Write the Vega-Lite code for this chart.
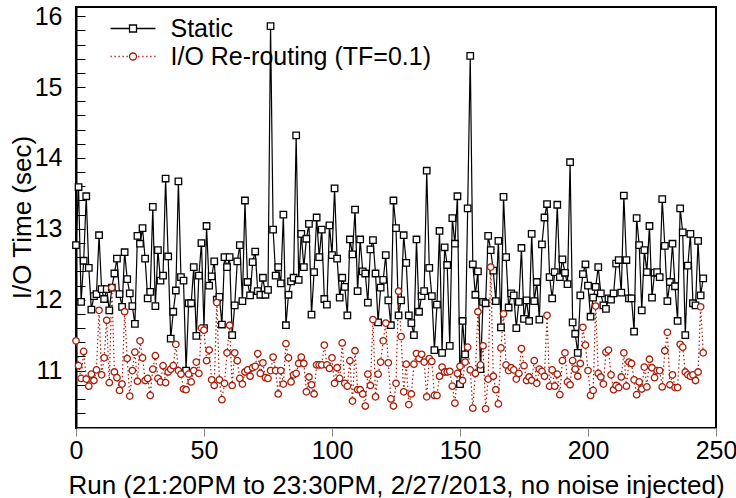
{
"$schema": "https://vega.github.io/schema/vega-lite/v6.json",
"width": 640, "height": 421,
"autosize": {"type": "none"},
"padding": {"left": 76, "top": 7, "right": 20, "bottom": 70},
"background": "white",
"config": {"font": "Liberation Sans", "view": {"stroke": "black", "strokeWidth": 2}},
"data": {"values": [
{"run":0,"series":"Static","time":12.77},{"run":1,"series":"Static","time":13.59},{"run":2,"series":"Static","time":11.97},{"run":3,"series":"Static","time":12.55},{"run":4,"series":"Static","time":13.46},{"run":5,"series":"Static","time":12.45},{"run":6,"series":"Static","time":11.86},{"run":7,"series":"Static","time":12.05},{"run":8,"series":"Static","time":12.08},{"run":9,"series":"Static","time":12.91},
{"run":10,"series":"Static","time":12.15},{"run":11,"series":"Static","time":12.01},{"run":12,"series":"Static","time":12.15},{"run":13,"series":"Static","time":11.85},{"run":14,"series":"Static","time":12.17},{"run":15,"series":"Static","time":12.37},{"run":16,"series":"Static","time":12.58},{"run":17,"series":"Static","time":12.08},{"run":18,"series":"Static","time":11.90},{"run":19,"series":"Static","time":12.67},
{"run":20,"series":"Static","time":12.29},{"run":21,"series":"Static","time":12.09},{"run":22,"series":"Static","time":11.91},{"run":23,"series":"Static","time":11.66},{"run":24,"series":"Static","time":12.90},{"run":25,"series":"Static","time":12.79},{"run":26,"series":"Static","time":13.01},{"run":27,"series":"Static","time":12.58},{"run":28,"series":"Static","time":12.02},{"run":29,"series":"Static","time":12.11},
{"run":30,"series":"Static","time":13.31},{"run":31,"series":"Static","time":11.91},{"run":32,"series":"Static","time":12.70},{"run":33,"series":"Static","time":12.27},{"run":34,"series":"Static","time":12.34},{"run":35,"series":"Static","time":13.71},{"run":36,"series":"Static","time":12.61},{"run":37,"series":"Static","time":11.45},{"run":38,"series":"Static","time":11.83},{"run":39,"series":"Static","time":12.13},
{"run":40,"series":"Static","time":13.67},{"run":41,"series":"Static","time":12.32},{"run":42,"series":"Static","time":12.27},{"run":43,"series":"Static","time":11.00},{"run":44,"series":"Static","time":11.95},{"run":45,"series":"Static","time":11.95},{"run":46,"series":"Static","time":12.46},{"run":47,"series":"Static","time":11.49},{"run":48,"series":"Static","time":12.34},{"run":49,"series":"Static","time":12.80},
{"run":50,"series":"Static","time":11.60},{"run":51,"series":"Static","time":13.04},{"run":52,"series":"Static","time":12.20},{"run":53,"series":"Static","time":12.33},{"run":54,"series":"Static","time":12.54},{"run":55,"series":"Static","time":12.00},{"run":56,"series":"Static","time":12.04},{"run":57,"series":"Static","time":11.65},{"run":58,"series":"Static","time":12.60},{"run":59,"series":"Static","time":12.46},
{"run":60,"series":"Static","time":12.60},{"run":61,"series":"Static","time":11.50},{"run":62,"series":"Static","time":11.92},{"run":63,"series":"Static","time":12.54},{"run":64,"series":"Static","time":12.77},{"run":65,"series":"Static","time":11.98},{"run":66,"series":"Static","time":13.40},{"run":67,"series":"Static","time":12.25},{"run":68,"series":"Static","time":12.06},{"run":69,"series":"Static","time":12.53},
{"run":70,"series":"Static","time":12.68},{"run":71,"series":"Static","time":12.12},{"run":72,"series":"Static","time":12.07},{"run":73,"series":"Static","time":12.31},{"run":74,"series":"Static","time":12.07},{"run":75,"series":"Static","time":12.14},{"run":76,"series":"Static","time":15.86},{"run":77,"series":"Static","time":12.99},{"run":78,"series":"Static","time":12.34},{"run":79,"series":"Static","time":12.46},
{"run":80,"series":"Static","time":12.23},{"run":81,"series":"Static","time":13.20},{"run":82,"series":"Static","time":11.64},{"run":83,"series":"Static","time":12.07},{"run":84,"series":"Static","time":12.26},{"run":85,"series":"Static","time":12.31},{"run":86,"series":"Static","time":14.32},{"run":87,"series":"Static","time":12.28},{"run":88,"series":"Static","time":12.93},{"run":89,"series":"Static","time":12.46},
{"run":90,"series":"Static","time":12.86},{"run":91,"series":"Static","time":13.07},{"run":92,"series":"Static","time":11.79},{"run":93,"series":"Static","time":12.39},{"run":94,"series":"Static","time":13.16},{"run":95,"series":"Static","time":12.60},{"run":96,"series":"Static","time":12.99},{"run":97,"series":"Static","time":12.01},{"run":98,"series":"Static","time":11.93},{"run":99,"series":"Static","time":13.05},
{"run":100,"series":"Static","time":12.63},{"run":101,"series":"Static","time":13.57},{"run":102,"series":"Static","time":12.58},{"run":103,"series":"Static","time":12.03},{"run":104,"series":"Static","time":12.31},{"run":105,"series":"Static","time":12.18},{"run":106,"series":"Static","time":11.78},{"run":107,"series":"Static","time":12.85},{"run":108,"series":"Static","time":12.64},{"run":109,"series":"Static","time":13.27},
{"run":110,"series":"Static","time":12.12},{"run":111,"series":"Static","time":12.85},{"run":112,"series":"Static","time":12.40},{"run":113,"series":"Static","time":12.37},{"run":114,"series":"Static","time":11.96},{"run":115,"series":"Static","time":12.71},{"run":116,"series":"Static","time":12.84},{"run":117,"series":"Static","time":12.37},{"run":118,"series":"Static","time":11.68},{"run":119,"series":"Static","time":12.17},
{"run":120,"series":"Static","time":12.28},{"run":121,"series":"Static","time":12.63},{"run":122,"series":"Static","time":11.99},{"run":123,"series":"Static","time":11.64},{"run":124,"series":"Static","time":13.40},{"run":125,"series":"Static","time":13.01},{"run":126,"series":"Static","time":11.78},{"run":127,"series":"Static","time":11.99},{"run":128,"series":"Static","time":12.91},{"run":129,"series":"Static","time":12.52},
{"run":130,"series":"Static","time":11.78},{"run":131,"series":"Static","time":11.67},{"run":132,"series":"Static","time":11.50},{"run":133,"series":"Static","time":12.85},{"run":134,"series":"Static","time":11.83},{"run":135,"series":"Static","time":12.05},{"run":136,"series":"Static","time":12.12},{"run":137,"series":"Static","time":13.82},{"run":138,"series":"Static","time":12.45},{"run":139,"series":"Static","time":12.05},
{"run":140,"series":"Static","time":11.29},{"run":141,"series":"Static","time":11.93},{"run":142,"series":"Static","time":12.97},{"run":143,"series":"Static","time":11.25},{"run":144,"series":"Static","time":12.74},{"run":145,"series":"Static","time":12.49},{"run":146,"series":"Static","time":11.35},{"run":147,"series":"Static","time":13.15},{"run":148,"series":"Static","time":12.79},{"run":149,"series":"Static","time":13.46},
{"run":150,"series":"Static","time":10.81},{"run":151,"series":"Static","time":11.70},{"run":152,"series":"Static","time":11.23},{"run":153,"series":"Static","time":13.29},{"run":154,"series":"Static","time":15.44},{"run":155,"series":"Static","time":12.50},{"run":156,"series":"Static","time":12.07},{"run":157,"series":"Static","time":12.40},{"run":158,"series":"Static","time":11.02},{"run":159,"series":"Static","time":11.97},
{"run":160,"series":"Static","time":11.95},{"run":161,"series":"Static","time":12.90},{"run":162,"series":"Static","time":12.70},{"run":163,"series":"Static","time":12.41},{"run":164,"series":"Static","time":11.98},{"run":165,"series":"Static","time":12.83},{"run":166,"series":"Static","time":11.61},{"run":167,"series":"Static","time":13.45},{"run":168,"series":"Static","time":12.60},{"run":169,"series":"Static","time":11.89},
{"run":170,"series":"Static","time":12.09},{"run":171,"series":"Static","time":12.06},{"run":172,"series":"Static","time":11.60},{"run":173,"series":"Static","time":11.97},{"run":174,"series":"Static","time":12.73},{"run":175,"series":"Static","time":11.73},{"run":176,"series":"Static","time":11.99},{"run":177,"series":"Static","time":11.70},{"run":178,"series":"Static","time":12.93},{"run":179,"series":"Static","time":11.98},
{"run":180,"series":"Static","time":12.25},{"run":181,"series":"Static","time":11.72},{"run":182,"series":"Static","time":12.78},{"run":183,"series":"Static","time":13.16},{"run":184,"series":"Static","time":13.35},{"run":185,"series":"Static","time":12.32},{"run":186,"series":"Static","time":12.02},{"run":187,"series":"Static","time":12.39},{"run":188,"series":"Static","time":13.34},{"run":189,"series":"Static","time":12.32},
{"run":190,"series":"Static","time":12.57},{"run":191,"series":"Static","time":12.38},{"run":192,"series":"Static","time":12.22},{"run":193,"series":"Static","time":13.94},{"run":194,"series":"Static","time":11.68},{"run":195,"series":"Static","time":11.52},{"run":196,"series":"Static","time":11.25},{"run":197,"series":"Static","time":12.06},{"run":198,"series":"Static","time":12.36},{"run":199,"series":"Static","time":12.50},
{"run":200,"series":"Static","time":12.20},{"run":201,"series":"Static","time":11.76},{"run":202,"series":"Static","time":12.03},{"run":203,"series":"Static","time":12.18},{"run":204,"series":"Static","time":12.46},{"run":205,"series":"Static","time":12.09},{"run":206,"series":"Static","time":11.92},{"run":207,"series":"Static","time":11.87},{"run":208,"series":"Static","time":12.02},{"run":209,"series":"Static","time":12.00},
{"run":210,"series":"Static","time":12.09},{"run":211,"series":"Static","time":12.51},{"run":212,"series":"Static","time":12.56},{"run":213,"series":"Static","time":12.10},{"run":214,"series":"Static","time":13.47},{"run":215,"series":"Static","time":12.56},{"run":216,"series":"Static","time":12.02},{"run":217,"series":"Static","time":12.02},{"run":218,"series":"Static","time":11.55},{"run":219,"series":"Static","time":13.15},
{"run":220,"series":"Static","time":12.77},{"run":221,"series":"Static","time":11.85},{"run":222,"series":"Static","time":12.70},{"run":223,"series":"Static","time":12.39},{"run":224,"series":"Static","time":13.04},{"run":225,"series":"Static","time":12.03},{"run":226,"series":"Static","time":12.38},{"run":227,"series":"Static","time":12.39},{"run":228,"series":"Static","time":12.32},{"run":229,"series":"Static","time":13.42},
{"run":230,"series":"Static","time":12.76},{"run":231,"series":"Static","time":11.98},{"run":232,"series":"Static","time":12.25},{"run":233,"series":"Static","time":12.79},{"run":234,"series":"Static","time":12.19},{"run":235,"series":"Static","time":11.70},{"run":236,"series":"Static","time":13.29},{"run":237,"series":"Static","time":12.95},{"run":238,"series":"Static","time":11.50},{"run":239,"series":"Static","time":12.48},
{"run":240,"series":"Static","time":12.93},{"run":241,"series":"Static","time":11.95},{"run":242,"series":"Static","time":11.92},{"run":243,"series":"Static","time":12.83},{"run":244,"series":"Static","time":12.06},{"run":245,"series":"Static","time":12.30},
{"run":0,"series":"I/O Re-routing (TF=0.1)","time":11.42},{"run":1,"series":"I/O Re-routing (TF=0.1)","time":11.07},{"run":2,"series":"I/O Re-routing (TF=0.1)","time":10.89},{"run":3,"series":"I/O Re-routing (TF=0.1)","time":11.27},{"run":4,"series":"I/O Re-routing (TF=0.1)","time":10.88},{"run":5,"series":"I/O Re-routing (TF=0.1)","time":10.78},{"run":6,"series":"I/O Re-routing (TF=0.1)","time":10.95},{"run":7,"series":"I/O Re-routing (TF=0.1)","time":10.86},{"run":8,"series":"I/O Re-routing (TF=0.1)","time":11.01},{"run":9,"series":"I/O Re-routing (TF=0.1)","time":11.85},
{"run":10,"series":"I/O Re-routing (TF=0.1)","time":10.94},{"run":11,"series":"I/O Re-routing (TF=0.1)","time":11.18},{"run":12,"series":"I/O Re-routing (TF=0.1)","time":11.71},{"run":13,"series":"I/O Re-routing (TF=0.1)","time":10.83},{"run":14,"series":"I/O Re-routing (TF=0.1)","time":12.17},{"run":15,"series":"I/O Re-routing (TF=0.1)","time":10.98},{"run":16,"series":"I/O Re-routing (TF=0.1)","time":10.90},{"run":17,"series":"I/O Re-routing (TF=0.1)","time":10.72},{"run":18,"series":"I/O Re-routing (TF=0.1)","time":10.81},{"run":19,"series":"I/O Re-routing (TF=0.1)","time":11.83},
{"run":20,"series":"I/O Re-routing (TF=0.1)","time":11.17},{"run":21,"series":"I/O Re-routing (TF=0.1)","time":10.64},{"run":22,"series":"I/O Re-routing (TF=0.1)","time":11.00},{"run":23,"series":"I/O Re-routing (TF=0.1)","time":11.26},{"run":24,"series":"I/O Re-routing (TF=0.1)","time":10.85},{"run":25,"series":"I/O Re-routing (TF=0.1)","time":11.42},{"run":26,"series":"I/O Re-routing (TF=0.1)","time":11.18},{"run":27,"series":"I/O Re-routing (TF=0.1)","time":10.86},{"run":28,"series":"I/O Re-routing (TF=0.1)","time":10.89},{"run":29,"series":"I/O Re-routing (TF=0.1)","time":10.65},
{"run":30,"series":"I/O Re-routing (TF=0.1)","time":11.02},{"run":31,"series":"I/O Re-routing (TF=0.1)","time":11.21},{"run":32,"series":"I/O Re-routing (TF=0.1)","time":10.89},{"run":33,"series":"I/O Re-routing (TF=0.1)","time":10.84},{"run":34,"series":"I/O Re-routing (TF=0.1)","time":11.07},{"run":35,"series":"I/O Re-routing (TF=0.1)","time":10.83},{"run":36,"series":"I/O Re-routing (TF=0.1)","time":10.98},{"run":37,"series":"I/O Re-routing (TF=0.1)","time":11.02},{"run":38,"series":"I/O Re-routing (TF=0.1)","time":11.07},{"run":39,"series":"I/O Re-routing (TF=0.1)","time":11.37},
{"run":40,"series":"I/O Re-routing (TF=0.1)","time":11.00},{"run":41,"series":"I/O Re-routing (TF=0.1)","time":10.95},{"run":42,"series":"I/O Re-routing (TF=0.1)","time":10.74},{"run":43,"series":"I/O Re-routing (TF=0.1)","time":10.73},{"run":44,"series":"I/O Re-routing (TF=0.1)","time":10.95},{"run":45,"series":"I/O Re-routing (TF=0.1)","time":10.84},{"run":46,"series":"I/O Re-routing (TF=0.1)","time":11.00},{"run":47,"series":"I/O Re-routing (TF=0.1)","time":11.12},{"run":48,"series":"I/O Re-routing (TF=0.1)","time":10.96},{"run":49,"series":"I/O Re-routing (TF=0.1)","time":11.60},
{"run":50,"series":"I/O Re-routing (TF=0.1)","time":11.57},{"run":51,"series":"I/O Re-routing (TF=0.1)","time":11.14},{"run":52,"series":"I/O Re-routing (TF=0.1)","time":11.29},{"run":53,"series":"I/O Re-routing (TF=0.1)","time":10.87},{"run":54,"series":"I/O Re-routing (TF=0.1)","time":10.79},{"run":55,"series":"I/O Re-routing (TF=0.1)","time":11.96},{"run":56,"series":"I/O Re-routing (TF=0.1)","time":10.87},{"run":57,"series":"I/O Re-routing (TF=0.1)","time":10.59},{"run":58,"series":"I/O Re-routing (TF=0.1)","time":10.82},{"run":59,"series":"I/O Re-routing (TF=0.1)","time":11.25},
{"run":60,"series":"I/O Re-routing (TF=0.1)","time":11.64},{"run":61,"series":"I/O Re-routing (TF=0.1)","time":10.79},{"run":62,"series":"I/O Re-routing (TF=0.1)","time":11.25},{"run":63,"series":"I/O Re-routing (TF=0.1)","time":11.14},{"run":64,"series":"I/O Re-routing (TF=0.1)","time":10.89},{"run":65,"series":"I/O Re-routing (TF=0.1)","time":10.81},{"run":66,"series":"I/O Re-routing (TF=0.1)","time":10.98},{"run":67,"series":"I/O Re-routing (TF=0.1)","time":11.01},{"run":68,"series":"I/O Re-routing (TF=0.1)","time":10.92},{"run":69,"series":"I/O Re-routing (TF=0.1)","time":11.04},
{"run":70,"series":"I/O Re-routing (TF=0.1)","time":11.06},{"run":71,"series":"I/O Re-routing (TF=0.1)","time":11.24},{"run":72,"series":"I/O Re-routing (TF=0.1)","time":10.96},{"run":73,"series":"I/O Re-routing (TF=0.1)","time":11.11},{"run":74,"series":"I/O Re-routing (TF=0.1)","time":10.90},{"run":75,"series":"I/O Re-routing (TF=0.1)","time":10.89},{"run":76,"series":"I/O Re-routing (TF=0.1)","time":11.00},{"run":77,"series":"I/O Re-routing (TF=0.1)","time":11.19},{"run":78,"series":"I/O Re-routing (TF=0.1)","time":11.00},{"run":79,"series":"I/O Re-routing (TF=0.1)","time":10.67},
{"run":80,"series":"I/O Re-routing (TF=0.1)","time":11.00},{"run":81,"series":"I/O Re-routing (TF=0.1)","time":10.81},{"run":82,"series":"I/O Re-routing (TF=0.1)","time":11.38},{"run":83,"series":"I/O Re-routing (TF=0.1)","time":11.18},{"run":84,"series":"I/O Re-routing (TF=0.1)","time":10.84},{"run":85,"series":"I/O Re-routing (TF=0.1)","time":10.94},{"run":86,"series":"I/O Re-routing (TF=0.1)","time":10.96},{"run":87,"series":"I/O Re-routing (TF=0.1)","time":11.10},{"run":88,"series":"I/O Re-routing (TF=0.1)","time":11.19},{"run":89,"series":"I/O Re-routing (TF=0.1)","time":11.10},
{"run":90,"series":"I/O Re-routing (TF=0.1)","time":10.70},{"run":91,"series":"I/O Re-routing (TF=0.1)","time":10.91},{"run":92,"series":"I/O Re-routing (TF=0.1)","time":10.80},{"run":93,"series":"I/O Re-routing (TF=0.1)","time":10.67},{"run":94,"series":"I/O Re-routing (TF=0.1)","time":11.08},{"run":95,"series":"I/O Re-routing (TF=0.1)","time":11.08},{"run":96,"series":"I/O Re-routing (TF=0.1)","time":11.08},{"run":97,"series":"I/O Re-routing (TF=0.1)","time":11.36},{"run":98,"series":"I/O Re-routing (TF=0.1)","time":11.08},{"run":99,"series":"I/O Re-routing (TF=0.1)","time":11.03},
{"run":100,"series":"I/O Re-routing (TF=0.1)","time":11.18},{"run":101,"series":"I/O Re-routing (TF=0.1)","time":10.82},{"run":102,"series":"I/O Re-routing (TF=0.1)","time":11.04},{"run":103,"series":"I/O Re-routing (TF=0.1)","time":10.89},{"run":104,"series":"I/O Re-routing (TF=0.1)","time":11.39},{"run":105,"series":"I/O Re-routing (TF=0.1)","time":10.82},{"run":106,"series":"I/O Re-routing (TF=0.1)","time":10.78},{"run":107,"series":"I/O Re-routing (TF=0.1)","time":11.14},{"run":108,"series":"I/O Re-routing (TF=0.1)","time":10.57},{"run":109,"series":"I/O Re-routing (TF=0.1)","time":11.28},
{"run":110,"series":"I/O Re-routing (TF=0.1)","time":10.73},{"run":111,"series":"I/O Re-routing (TF=0.1)","time":10.73},{"run":112,"series":"I/O Re-routing (TF=0.1)","time":10.67},{"run":113,"series":"I/O Re-routing (TF=0.1)","time":10.50},{"run":114,"series":"I/O Re-routing (TF=0.1)","time":10.95},{"run":115,"series":"I/O Re-routing (TF=0.1)","time":10.79},{"run":116,"series":"I/O Re-routing (TF=0.1)","time":11.72},{"run":117,"series":"I/O Re-routing (TF=0.1)","time":10.63},{"run":118,"series":"I/O Re-routing (TF=0.1)","time":10.95},{"run":119,"series":"I/O Re-routing (TF=0.1)","time":11.12},
{"run":120,"series":"I/O Re-routing (TF=0.1)","time":11.42},{"run":121,"series":"I/O Re-routing (TF=0.1)","time":11.67},{"run":122,"series":"I/O Re-routing (TF=0.1)","time":11.11},{"run":123,"series":"I/O Re-routing (TF=0.1)","time":10.60},{"run":124,"series":"I/O Re-routing (TF=0.1)","time":10.50},{"run":125,"series":"I/O Re-routing (TF=0.1)","time":10.82},{"run":126,"series":"I/O Re-routing (TF=0.1)","time":12.12},{"run":127,"series":"I/O Re-routing (TF=0.1)","time":11.48},{"run":128,"series":"I/O Re-routing (TF=0.1)","time":10.70},{"run":129,"series":"I/O Re-routing (TF=0.1)","time":11.09},
{"run":130,"series":"I/O Re-routing (TF=0.1)","time":10.52},{"run":131,"series":"I/O Re-routing (TF=0.1)","time":10.67},{"run":132,"series":"I/O Re-routing (TF=0.1)","time":11.09},{"run":133,"series":"I/O Re-routing (TF=0.1)","time":11.24},{"run":134,"series":"I/O Re-routing (TF=0.1)","time":11.17},{"run":135,"series":"I/O Re-routing (TF=0.1)","time":11.23},{"run":136,"series":"I/O Re-routing (TF=0.1)","time":11.12},{"run":137,"series":"I/O Re-routing (TF=0.1)","time":10.63},{"run":138,"series":"I/O Re-routing (TF=0.1)","time":11.17},{"run":139,"series":"I/O Re-routing (TF=0.1)","time":11.13},
{"run":140,"series":"I/O Re-routing (TF=0.1)","time":10.65},{"run":141,"series":"I/O Re-routing (TF=0.1)","time":10.65},{"run":142,"series":"I/O Re-routing (TF=0.1)","time":10.92},{"run":143,"series":"I/O Re-routing (TF=0.1)","time":11.05},{"run":144,"series":"I/O Re-routing (TF=0.1)","time":10.98},{"run":145,"series":"I/O Re-routing (TF=0.1)","time":10.98},{"run":146,"series":"I/O Re-routing (TF=0.1)","time":10.99},{"run":147,"series":"I/O Re-routing (TF=0.1)","time":10.78},{"run":148,"series":"I/O Re-routing (TF=0.1)","time":10.54},{"run":149,"series":"I/O Re-routing (TF=0.1)","time":10.96},
{"run":150,"series":"I/O Re-routing (TF=0.1)","time":11.06},{"run":151,"series":"I/O Re-routing (TF=0.1)","time":10.86},{"run":152,"series":"I/O Re-routing (TF=0.1)","time":11.12},{"run":153,"series":"I/O Re-routing (TF=0.1)","time":11.33},{"run":154,"series":"I/O Re-routing (TF=0.1)","time":11.01},{"run":155,"series":"I/O Re-routing (TF=0.1)","time":10.47},{"run":156,"series":"I/O Re-routing (TF=0.1)","time":10.96},{"run":157,"series":"I/O Re-routing (TF=0.1)","time":11.83},{"run":158,"series":"I/O Re-routing (TF=0.1)","time":11.08},{"run":159,"series":"I/O Re-routing (TF=0.1)","time":11.35},
{"run":160,"series":"I/O Re-routing (TF=0.1)","time":10.46},{"run":161,"series":"I/O Re-routing (TF=0.1)","time":10.88},{"run":162,"series":"I/O Re-routing (TF=0.1)","time":12.46},{"run":163,"series":"I/O Re-routing (TF=0.1)","time":10.92},{"run":164,"series":"I/O Re-routing (TF=0.1)","time":10.73},{"run":165,"series":"I/O Re-routing (TF=0.1)","time":10.53},{"run":166,"series":"I/O Re-routing (TF=0.1)","time":11.32},{"run":167,"series":"I/O Re-routing (TF=0.1)","time":11.80},{"run":168,"series":"I/O Re-routing (TF=0.1)","time":11.08},{"run":169,"series":"I/O Re-routing (TF=0.1)","time":11.00},
{"run":170,"series":"I/O Re-routing (TF=0.1)","time":11.04},{"run":171,"series":"I/O Re-routing (TF=0.1)","time":11.01},{"run":172,"series":"I/O Re-routing (TF=0.1)","time":10.88},{"run":173,"series":"I/O Re-routing (TF=0.1)","time":10.96},{"run":174,"series":"I/O Re-routing (TF=0.1)","time":11.31},{"run":175,"series":"I/O Re-routing (TF=0.1)","time":11.07},{"run":176,"series":"I/O Re-routing (TF=0.1)","time":10.86},{"run":177,"series":"I/O Re-routing (TF=0.1)","time":10.91},{"run":178,"series":"I/O Re-routing (TF=0.1)","time":10.86},{"run":179,"series":"I/O Re-routing (TF=0.1)","time":11.14},
{"run":180,"series":"I/O Re-routing (TF=0.1)","time":10.82},{"run":181,"series":"I/O Re-routing (TF=0.1)","time":11.02},{"run":182,"series":"I/O Re-routing (TF=0.1)","time":10.99},{"run":183,"series":"I/O Re-routing (TF=0.1)","time":10.92},{"run":184,"series":"I/O Re-routing (TF=0.1)","time":11.78},{"run":185,"series":"I/O Re-routing (TF=0.1)","time":10.78},{"run":186,"series":"I/O Re-routing (TF=0.1)","time":11.01},{"run":187,"series":"I/O Re-routing (TF=0.1)","time":10.78},{"run":188,"series":"I/O Re-routing (TF=0.1)","time":10.95},{"run":189,"series":"I/O Re-routing (TF=0.1)","time":10.66},
{"run":190,"series":"I/O Re-routing (TF=0.1)","time":11.14},{"run":191,"series":"I/O Re-routing (TF=0.1)","time":11.25},{"run":192,"series":"I/O Re-routing (TF=0.1)","time":10.84},{"run":193,"series":"I/O Re-routing (TF=0.1)","time":10.80},{"run":194,"series":"I/O Re-routing (TF=0.1)","time":11.14},{"run":195,"series":"I/O Re-routing (TF=0.1)","time":11.02},{"run":196,"series":"I/O Re-routing (TF=0.1)","time":10.92},{"run":197,"series":"I/O Re-routing (TF=0.1)","time":11.10},{"run":198,"series":"I/O Re-routing (TF=0.1)","time":11.61},{"run":199,"series":"I/O Re-routing (TF=0.1)","time":11.36},
{"run":200,"series":"I/O Re-routing (TF=0.1)","time":11.00},{"run":201,"series":"I/O Re-routing (TF=0.1)","time":10.65},{"run":202,"series":"I/O Re-routing (TF=0.1)","time":10.72},{"run":203,"series":"I/O Re-routing (TF=0.1)","time":11.91},{"run":204,"series":"I/O Re-routing (TF=0.1)","time":10.96},{"run":205,"series":"I/O Re-routing (TF=0.1)","time":10.91},{"run":206,"series":"I/O Re-routing (TF=0.1)","time":10.81},{"run":207,"series":"I/O Re-routing (TF=0.1)","time":11.26},{"run":208,"series":"I/O Re-routing (TF=0.1)","time":11.29},{"run":209,"series":"I/O Re-routing (TF=0.1)","time":10.94},
{"run":210,"series":"I/O Re-routing (TF=0.1)","time":10.73},{"run":211,"series":"I/O Re-routing (TF=0.1)","time":10.79},{"run":212,"series":"I/O Re-routing (TF=0.1)","time":10.76},{"run":213,"series":"I/O Re-routing (TF=0.1)","time":10.91},{"run":214,"series":"I/O Re-routing (TF=0.1)","time":11.25},{"run":215,"series":"I/O Re-routing (TF=0.1)","time":10.78},{"run":216,"series":"I/O Re-routing (TF=0.1)","time":11.12},{"run":217,"series":"I/O Re-routing (TF=0.1)","time":11.10},{"run":218,"series":"I/O Re-routing (TF=0.1)","time":10.87},{"run":219,"series":"I/O Re-routing (TF=0.1)","time":10.66},
{"run":220,"series":"I/O Re-routing (TF=0.1)","time":10.84},{"run":221,"series":"I/O Re-routing (TF=0.1)","time":10.74},{"run":222,"series":"I/O Re-routing (TF=0.1)","time":11.05},{"run":223,"series":"I/O Re-routing (TF=0.1)","time":10.77},{"run":224,"series":"I/O Re-routing (TF=0.1)","time":11.16},{"run":225,"series":"I/O Re-routing (TF=0.1)","time":11.04},{"run":226,"series":"I/O Re-routing (TF=0.1)","time":10.90},{"run":227,"series":"I/O Re-routing (TF=0.1)","time":11.00},{"run":228,"series":"I/O Re-routing (TF=0.1)","time":11.00},{"run":229,"series":"I/O Re-routing (TF=0.1)","time":10.77},
{"run":230,"series":"I/O Re-routing (TF=0.1)","time":11.28},{"run":231,"series":"I/O Re-routing (TF=0.1)","time":11.54},{"run":232,"series":"I/O Re-routing (TF=0.1)","time":10.80},{"run":233,"series":"I/O Re-routing (TF=0.1)","time":10.94},{"run":234,"series":"I/O Re-routing (TF=0.1)","time":10.76},{"run":235,"series":"I/O Re-routing (TF=0.1)","time":10.76},{"run":236,"series":"I/O Re-routing (TF=0.1)","time":11.37},{"run":237,"series":"I/O Re-routing (TF=0.1)","time":11.33},{"run":238,"series":"I/O Re-routing (TF=0.1)","time":10.98},{"run":239,"series":"I/O Re-routing (TF=0.1)","time":10.94},
{"run":240,"series":"I/O Re-routing (TF=0.1)","time":10.92},{"run":241,"series":"I/O Re-routing (TF=0.1)","time":10.94},{"run":242,"series":"I/O Re-routing (TF=0.1)","time":10.86},{"run":243,"series":"I/O Re-routing (TF=0.1)","time":10.98},{"run":244,"series":"I/O Re-routing (TF=0.1)","time":11.90},{"run":245,"series":"I/O Re-routing (TF=0.1)","time":11.25}
]},
"encoding": {
  "x": {"field": "run", "type": "quantitative", "scale": {"domain": [0, 250], "nice": false},
    "axis": {"title": "Run (21:20PM to 23:30PM, 2/27/2013, no noise injected)", "grid": false,
      "tickCount": 5, "tickSize": 8,
      "labelFontSize": 25, "labelColor": "black", "labelPadding": 2, "labelFlush": false,
      "titleFontSize": 26, "titleFontWeight": "normal", "titleColor": "black", "titleX": 320, "titleY": 57, "titleBaseline": "middle", "titleAlign": "center"}},
  "y": {"field": "time", "type": "quantitative", "scale": {"domain": [10.19, 16.13], "nice": false, "zero": false},
    "axis": {"title": "I/O Time (sec)", "grid": false,
      "values": [10.2,10.4,10.6,10.8,11,11.2,11.4,11.6,11.8,12,12.2,12.4,12.6,12.8,13,13.2,13.4,13.6,13.8,14,14.2,14.4,14.6,14.8,15,15.2,15.4,15.6,15.8,16],
      "labelExpr": "abs(datum.value - round(datum.value)) < 0.01 ? format(datum.value, 'd') : ''",
      "tickSize": -9, "tickColor": "#000000",
      "domainColor": "black", "domainWidth": 2,
      "labelFontSize": 25, "labelColor": "black", "labelPadding": 23, "labelFlush": false,
      "titleFontSize": 26, "titleFontWeight": "normal", "titleColor": "black", "titleX": -54, "titleY": 210, "titleBaseline": "middle", "titleAlign": "center", "titleAngle": 270}}
},
"layer": [
  {"mark": {"type": "line", "strokeWidth": 1.2},
   "encoding": {
     "stroke": {"field": "series", "type": "nominal", "scale": {"domain": ["I/O Re-routing (TF=0.1)", "Static"], "range": ["#a81c08", "#000000"]}, "legend": null},
     "strokeDash": {"field": "series", "type": "nominal", "scale": {"domain": ["I/O Re-routing (TF=0.1)", "Static"], "range": [[1.5, 2.5], [1, 0]]}, "legend": null}
   }},
  {"transform": [{"filter": "datum.series === 'Static'"}],
   "mark": {"type": "point", "shape": "square", "filled": true, "fill": "white", "stroke": "#000000", "strokeWidth": 1.3, "size": 42, "opacity": 1}},
  {"transform": [{"filter": "datum.series !== 'Static'"}],
   "mark": {"type": "point", "shape": "circle", "filled": true, "fill": "white", "stroke": "#a81c08", "strokeWidth": 1.3, "size": 42, "opacity": 1}},
  {"transform": [{"filter": "datum.run === 0"}],
   "mark": {"type": "point", "opacity": 0},
   "encoding": {
     "shape": {"field": "series", "type": "nominal",
       "scale": {"domain": ["Static", "I/O Re-routing (TF=0.1)"], "range": ["M-2.25,0H-0.35M0.35,0H2.25M-0.35,-0.35H0.35V0.35H-0.35Z", "M-2.25,0h0.13M-1.85,0h0.13M-1.45,0h0.13M-1.05,0h0.13M-0.65,0h0.13M0.52,0h0.13M0.92,0h0.13M1.32,0h0.13M1.72,0h0.13M2.12,0h0.13M-0.35,0A0.35,0.35,0,1,0,0.35,0A0.35,0.35,0,1,0,-0.35,0Z"]},
       "legend": {"title": null, "orient": "none", "legendX": 44.5, "legendY": 9, "padding": 0, "symbolSize": 400,
         "labelFontSize": 25, "labelColor": "black", "labelOffset": 25, "labelLimit": 600, "rowPadding": 2,
         "symbolStrokeWidth": 1.3, "symbolFillColor": "white", "symbolOpacity": 1,
         "encoding": {"symbols": {
           "stroke": {"condition": {"test": "datum.value === 'Static'", "value": "#000000"}, "value": "#a81c08"},
           "fill": {"value": "white"},
           "opacity": {"value": 1}
         }}}}
   }}
]
}
